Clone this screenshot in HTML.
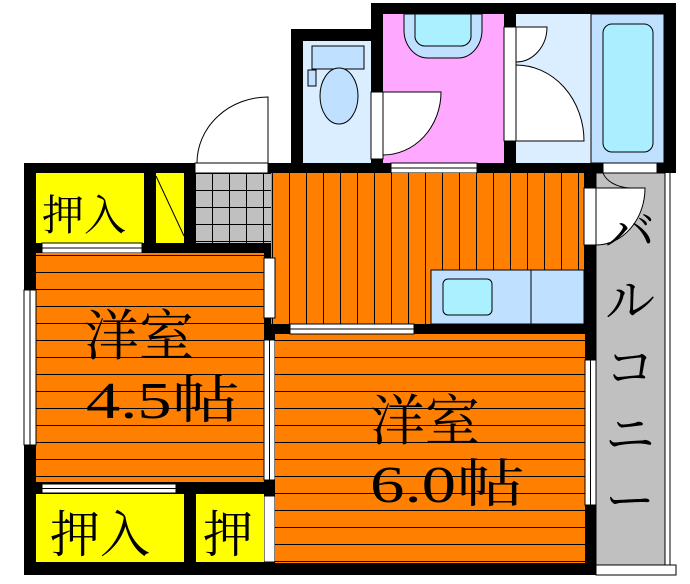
<!DOCTYPE html>
<html><head><meta charset="utf-8"><style>
html,body{margin:0;padding:0;background:#fff;}
svg{display:block;}
text{font-family:"Liberation Serif","Noto Serif CJK SC",serif;fill:#000;}
</style></head><body>
<svg width="690" height="584" viewBox="0 0 690 584" xmlns="http://www.w3.org/2000/svg">
<defs>
<pattern id="hz" width="10" height="17" patternUnits="userSpaceOnUse"><rect width="10" height="17" fill="#ff8000"/><line x1="0" y1="0.5" x2="10" y2="0.5" stroke="#000" stroke-width="1"/></pattern>
<pattern id="vt" width="17" height="10" patternUnits="userSpaceOnUse"><rect width="17" height="10" fill="#ff8000"/><line x1="0.5" y1="0" x2="0.5" y2="10" stroke="#000" stroke-width="1"/></pattern>
<pattern id="tile" width="17" height="17" patternUnits="userSpaceOnUse" x="195" y="173"><rect width="17" height="17" fill="#c0c0c0"/><path d="M0 0.5H17M0.5 0V17" stroke="#000"/></pattern>
</defs>
<rect x="24" y="163" width="572" height="412" fill="#000"/>
<rect x="291" y="29" width="92" height="144" fill="#000"/>
<rect x="371" y="3" width="305" height="170" fill="#000"/>
<rect x="596" y="173" width="80" height="402" fill="#fff"/>
<rect x="596" y="173" width="69" height="392" fill="#c0c0c0" stroke="#000" stroke-width="1"/>
<line x1="670" y1="173" x2="670" y2="575" stroke="#000"/>
<rect x="596" y="565" width="80" height="10" fill="#fff" stroke="#000" stroke-width="1"/>
<rect x="303" y="41" width="68" height="122" fill="#dbeeff"/>
<rect x="312" y="46" width="52" height="23" fill="#c0e0ff" stroke="#000"/>
<rect x="308" y="70" width="8" height="16" fill="#c0e0ff" stroke="#000"/>
<ellipse cx="339" cy="96" rx="19" ry="28" fill="#c0e0ff" stroke="#000"/>
<rect x="383" y="14" width="121" height="149" fill="#ffa8ff"/>
<path d="M404 14V30A24 28 0 0 0 428 58H458A24 28 0 0 0 482 30V14Z" fill="#c0e0ff" stroke="#000"/>
<path d="M415 14V35A10 10 0 0 0 425 46H461A10 10 0 0 0 471 35V14Z" fill="#aaf0ff" stroke="#000"/>
<rect x="371" y="92" width="12" height="67" fill="#fff" stroke="#000"/>
<path d="M383 92H441A58 63 0 0 1 383 155Z" fill="#fff" stroke="#000"/>
<rect x="391" y="163" width="86" height="10" fill="#fff" stroke="#000"/>
<line x1="391" y1="168" x2="477" y2="168" stroke="#000"/>
<rect x="516" y="14" width="75" height="149" fill="#dbeeff"/>
<rect x="591" y="14" width="73" height="149" fill="#c0e0ff" stroke="#000"/>
<rect x="603" y="24" width="50" height="128" rx="9" fill="#aaeeff" stroke="#000"/>
<rect x="504" y="27" width="12" height="114" fill="#fff" stroke="#000"/>
<path d="M516 27H547A31 35 0 0 1 516 62Z" fill="#fff" stroke="#000"/>
<path d="M516 65A68 76 0 0 1 584 141H516Z" fill="#fff" stroke="#000"/>
<rect x="271" y="173" width="313" height="151" fill="url(#vt)"/>
<rect x="431" y="270" width="153" height="54" fill="#c0e0ff" stroke="#000"/>
<line x1="531" y1="270" x2="531" y2="324" stroke="#000"/>
<rect x="443" y="279" width="49" height="36" rx="5" fill="#aaf0ff" stroke="#000"/>
<rect x="584" y="188" width="12" height="57" fill="#fff" stroke="#000"/>
<path d="M596 188H645A49 57 0 0 1 596 245Z" fill="#fff" stroke="#000"/>
<rect x="603" y="163" width="54" height="10" fill="#fff" stroke="#000"/>
<path d="M603 173A30 20 0 0 0 630 188" fill="none" stroke="#000"/>
<rect x="195" y="173" width="76" height="70" fill="url(#tile)"/>
<rect x="195" y="163" width="73" height="10" fill="#fff" stroke="#000"/>
<path d="M197 163A71 66 0 0 1 268 97V163" fill="none" stroke="#000"/>
<rect x="36" y="173" width="108" height="70" fill="#ffff00"/>
<rect x="156" y="173" width="28" height="70" fill="#ffff00"/>
<line x1="156" y1="176" x2="184" y2="236" stroke="#000"/>
<rect x="42" y="243" width="100" height="10" fill="#fff" stroke="#000"/>
<line x1="42" y1="248" x2="142" y2="248" stroke="#000"/>
<rect x="36" y="253" width="228" height="229" fill="url(#hz)"/>
<rect x="24" y="290" width="12" height="155" fill="#fff" stroke="#000"/>
<line x1="30" y1="290" x2="30" y2="445" stroke="#000"/>
<rect x="264" y="258" width="11" height="60" fill="#fff" stroke="#000"/>
<rect x="264" y="340" width="11" height="140" fill="#fff" stroke="#000"/>
<line x1="269.5" y1="340" x2="269.5" y2="480" stroke="#000"/>
<rect x="264" y="496" width="11" height="66" fill="#fff" stroke="#000"/>
<rect x="275" y="334" width="310" height="229" fill="url(#hz)"/>
<rect x="290" y="324" width="124" height="10" fill="#fff" stroke="#000"/>
<line x1="290" y1="329" x2="414" y2="329" stroke="#000"/>
<rect x="585" y="360" width="11" height="145" fill="#fff" stroke="#000"/>
<line x1="590.5" y1="360" x2="590.5" y2="505" stroke="#000"/>
<rect x="42" y="484" width="134" height="9" fill="#fff" stroke="#000"/>
<line x1="42" y1="488.5" x2="176" y2="488.5" stroke="#000"/>
<rect x="36" y="494" width="148" height="68" fill="#ffff00"/>
<rect x="196" y="494" width="68" height="68" fill="#ffff00"/>
<text x="42" y="230" font-size="42">押入</text>
<text x="84" y="355" font-size="55">洋室</text>
<text x="86" y="418" font-size="52" textLength="154" lengthAdjust="spacingAndGlyphs">4.5帖</text>
<text x="370" y="440" font-size="55">洋室</text>
<text x="370" y="502" font-size="52" textLength="155" lengthAdjust="spacingAndGlyphs">6.0帖</text>
<text x="50" y="552" font-size="50">押入</text>
<text x="203" y="552" font-size="50">押</text>
<g font-size="50">
<text x="605" y="250">バ</text>
<text x="605" y="318">ル</text>
<text x="605" y="385">コ</text>
<text x="605" y="452">ニ</text>
<text x="605" y="518">ー</text>
</g>
</svg>
</body></html>
